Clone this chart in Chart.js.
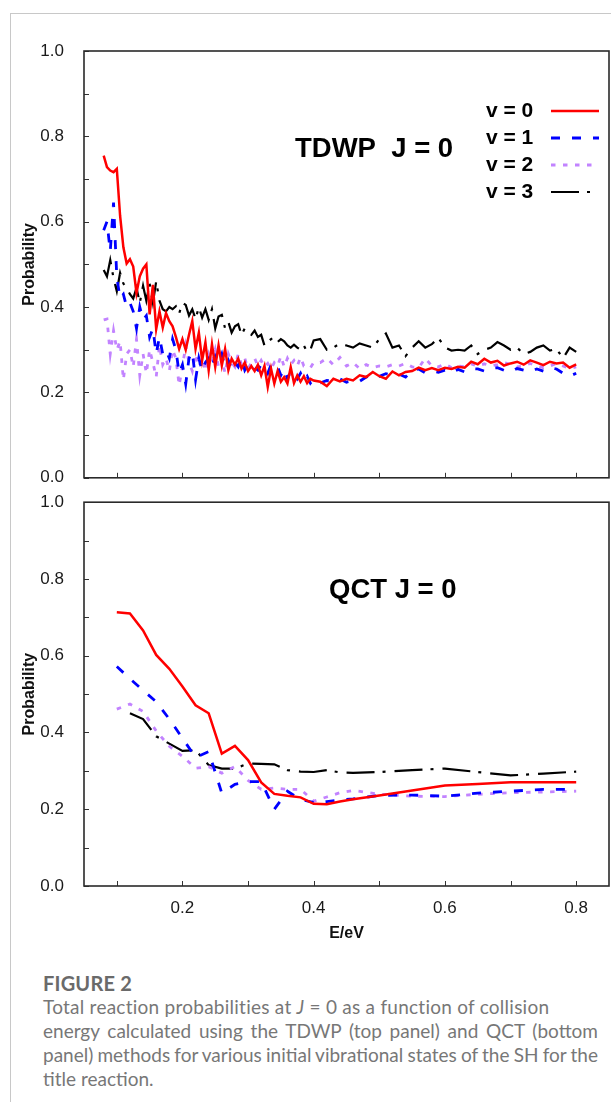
<!DOCTYPE html>
<html>
<head>
<meta charset="utf-8">
<script src="https://cdn.jsdelivr.net/npm/chart.js@4.4.1/dist/chart.umd.min.js"></script>
<style>
  body { margin: 0; background: #fff; width: 611px; height: 1102px; position: relative; overflow: hidden; }
  #frame { position: absolute; left: 10px; top: 13px; width: 640px; height: 1120px;
           border-top: 1px solid #c8c8c8; border-left: 1px solid #c8c8c8; }
  canvas { position: absolute; left: 0; }
  #top-chart { top: 0; }
  #bottom-chart { top: 480px; }
  #caption { position: absolute; left: 43px; top: 971px; color: #777;
             font-family: Lato, "Open Sans", sans-serif; font-size: 19px; line-height: 24px; }
  #caption .fig { color: #6a6a6a; font-weight: 700; font-size: 20px; letter-spacing: 0.2px; }
  #caption .ln { white-space: nowrap; }
  #caption .l1 { letter-spacing: 0.25px; }
  #caption .just { width: 555px; text-align: justify; text-align-last: justify; }
  #caption .tight { word-spacing: -2.5px; }
</style>
</head>
<body>
<div id="frame"></div>
<canvas id="top-chart" width="611" height="500"></canvas>
<canvas id="bottom-chart" width="611" height="480"></canvas>
<div id="caption">
  <div class="fig">FIGURE 2</div>
  <div class="ln l1">Total reaction probabilities at <i>J</i> = 0 as a function of collision</div>
  <div class="ln just">energy calculated using the TDWP (top panel) and QCT (bottom</div>
  <div class="ln just tight">panel) methods for various initial vibrational states of the SH for the</div>
  <div class="ln">title reaction.</div>
</div>
<script>
// TDWP energies (eV): 0.005 steps up to 0.40, then 0.01 steps
const tdwpE = [
  0.080, 0.085, 0.090, 0.095, 0.100, 0.105, 0.110, 0.115, 0.120, 0.125,
  0.130, 0.135, 0.140, 0.145, 0.150, 0.155, 0.160, 0.165, 0.170, 0.175,
  0.180, 0.185, 0.190, 0.195, 0.200, 0.205, 0.210, 0.215, 0.220, 0.225,
  0.230, 0.235, 0.240, 0.245, 0.250, 0.255, 0.260, 0.265, 0.270, 0.275,
  0.280, 0.285, 0.290, 0.295, 0.300, 0.305, 0.310, 0.315, 0.320, 0.325,
  0.330, 0.335, 0.340, 0.345, 0.350, 0.355, 0.360, 0.365, 0.370, 0.375,
  0.380, 0.385, 0.390, 0.395, 0.400,
  0.41, 0.42, 0.43, 0.44, 0.45, 0.46, 0.47, 0.48, 0.49, 0.50,
  0.51, 0.52, 0.53, 0.54, 0.55, 0.56, 0.57, 0.58, 0.59, 0.60,
  0.61, 0.62, 0.63, 0.64, 0.65, 0.66, 0.67, 0.68, 0.69, 0.70,
  0.71, 0.72, 0.73, 0.74, 0.75, 0.76, 0.77, 0.78, 0.79, 0.80
];
const tdwpV0 = [
  0.755, 0.728, 0.720, 0.716, 0.724, 0.614, 0.540, 0.502, 0.512, 0.495,
  0.433, 0.472, 0.490, 0.500, 0.383, 0.452, 0.348, 0.390, 0.352, 0.386,
  0.367, 0.355, 0.330, 0.302, 0.325, 0.300, 0.335, 0.367, 0.302, 0.340,
  0.275, 0.317, 0.252, 0.313, 0.260, 0.310, 0.263, 0.302, 0.252, 0.279,
  0.265, 0.279, 0.256, 0.270, 0.250, 0.262, 0.250, 0.265, 0.240, 0.262,
  0.213, 0.256, 0.221, 0.250, 0.225, 0.236, 0.221, 0.259, 0.222, 0.240,
  0.225, 0.238, 0.222, 0.232, 0.228,
  0.225, 0.215, 0.232, 0.226, 0.232, 0.228, 0.240, 0.236, 0.248, 0.238,
  0.232, 0.249, 0.240, 0.248, 0.250, 0.258, 0.252, 0.257, 0.252, 0.258,
  0.255, 0.260, 0.258, 0.272, 0.266, 0.279, 0.270, 0.274, 0.263, 0.268,
  0.272, 0.265, 0.275, 0.270, 0.264, 0.272, 0.268, 0.270, 0.258, 0.266
];
const tdwpV1 = [
  0.580, 0.600, 0.530, 0.645, 0.470, 0.420, 0.430, 0.400, 0.410, 0.390,
  0.350, 0.400, 0.370, 0.380, 0.330, 0.350, 0.290, 0.330, 0.290, 0.300,
  0.280, 0.325, 0.300, 0.245, 0.265, 0.220, 0.280, 0.295, 0.230, 0.280,
  0.250, 0.270, 0.280, 0.260, 0.285, 0.270, 0.290, 0.258, 0.275, 0.255,
  0.270, 0.260, 0.280, 0.252, 0.265, 0.270, 0.258, 0.252, 0.265, 0.260,
  0.245, 0.265, 0.255, 0.260, 0.240, 0.255, 0.232, 0.250, 0.244, 0.232,
  0.245, 0.228, 0.238, 0.222, 0.232,
  0.222, 0.228, 0.226, 0.232, 0.224, 0.228, 0.226, 0.236, 0.242, 0.238,
  0.244, 0.240, 0.243, 0.236, 0.252, 0.255, 0.246, 0.250, 0.247, 0.252,
  0.246, 0.254, 0.248, 0.256, 0.255, 0.250, 0.257, 0.258, 0.252, 0.248,
  0.256, 0.252, 0.248, 0.255, 0.250, 0.258, 0.255, 0.245, 0.238, 0.245
];
const tdwpV2 = [
  0.370, 0.372, 0.290, 0.345, 0.300, 0.320, 0.230, 0.290, 0.300, 0.260,
  0.325, 0.240, 0.290, 0.245, 0.300, 0.270, 0.236, 0.310, 0.265, 0.280,
  0.250, 0.300, 0.280, 0.217, 0.260, 0.310, 0.270, 0.250, 0.290, 0.260,
  0.280, 0.250, 0.290, 0.270, 0.300, 0.260, 0.280, 0.245, 0.290, 0.270,
  0.260, 0.290, 0.265, 0.280, 0.255, 0.270, 0.280, 0.262, 0.275, 0.260,
  0.268, 0.255, 0.270, 0.262, 0.285, 0.260, 0.280, 0.265, 0.275, 0.262,
  0.282, 0.262, 0.263, 0.258, 0.270,
  0.270, 0.280, 0.265, 0.282, 0.262, 0.270, 0.256, 0.265, 0.258, 0.262,
  0.260, 0.265, 0.262, 0.268, 0.260, 0.258, 0.280, 0.262, 0.260, 0.267,
  0.258, 0.262, 0.260, 0.267, 0.262, 0.267, 0.262, 0.265, 0.270, 0.266,
  0.260, 0.262, 0.268, 0.262, 0.258, 0.262, 0.268, 0.262, 0.256, 0.260
];
const tdwpV3 = [
  0.487, 0.472, 0.510, 0.468, 0.437, 0.480, 0.455, 0.445, 0.430, 0.420,
  0.445, 0.410, 0.450, 0.415, 0.455, 0.410, 0.460, 0.415, 0.395, 0.390,
  0.400, 0.395, 0.402, 0.385, 0.410, 0.405, 0.380, 0.395, 0.372, 0.400,
  0.375, 0.395, 0.370, 0.395, 0.350, 0.378, 0.382, 0.350, 0.365, 0.340,
  0.355, 0.360, 0.335, 0.350, 0.340, 0.335, 0.345, 0.330, 0.335, 0.310,
  0.318, 0.325, 0.330, 0.318, 0.325, 0.320, 0.310, 0.305, 0.312, 0.305,
  0.300, 0.310, 0.295, 0.300, 0.322,
  0.325, 0.300, 0.305, 0.315, 0.310, 0.305, 0.315, 0.310, 0.305, 0.325,
  0.338, 0.305, 0.310, 0.285, 0.305, 0.320, 0.305, 0.313, 0.328, 0.305,
  0.298, 0.300, 0.298, 0.310, 0.290, 0.300, 0.305, 0.318, 0.310, 0.300,
  0.305, 0.290, 0.295, 0.305, 0.310, 0.298, 0.302, 0.280, 0.305, 0.295
];

// QCT energies (eV)
const qctE = [0.10, 0.12, 0.14, 0.16, 0.18, 0.20, 0.22, 0.24, 0.26, 0.28, 0.30, 0.32, 0.34,
              0.36, 0.38, 0.40, 0.42, 0.44, 0.46, 0.50, 0.55, 0.60, 0.65, 0.70, 0.75, 0.80];
const qctV0 = [0.713, 0.710, 0.666, 0.602, 0.566, 0.520, 0.471, 0.450, 0.345, 0.365, 0.328, 0.270, 0.240,
               0.235, 0.231, 0.214, 0.213, 0.220, 0.226, 0.236, 0.249, 0.262, 0.266, 0.270, 0.270, 0.270];
const qctV1 = [0.572, 0.540, 0.510, 0.480, 0.435, 0.385, 0.335, 0.350, 0.242, 0.265, 0.272, 0.272, 0.200,
               0.247, 0.225, 0.218, 0.220, 0.224, 0.227, 0.236, 0.237, 0.234, 0.242, 0.247, 0.252, 0.252];
const qctV2 = [0.461, 0.474, 0.455, 0.404, 0.364, 0.338, 0.307, 0.311, 0.294, 0.311, 0.275, 0.252, 0.255,
               0.252, 0.252, 0.221, 0.232, 0.243, 0.249, 0.239, 0.234, 0.233, 0.239, 0.243, 0.245, 0.247];
const qctV3 = [null, 0.450, 0.435, 0.390, 0.371, 0.352, 0.354, 0.315, 0.306, 0.306, 0.319, 0.318, 0.317,
               0.302, 0.298, 0.297, 0.302, 0.296, 0.295, 0.297, 0.302, 0.306, 0.297, 0.288, 0.293, 0.298];

const seriesNames = ["v = 0", "v = 1", "v = 2", "v = 3"];
const xTicks = [0.1, 0.2, 0.3, 0.4, 0.5, 0.6, 0.7, 0.8];
const xLabels = [0.2, 0.4, 0.6, 0.8];
const yTicks = [0, 0.1, 0.2, 0.3, 0.4, 0.5, 0.6, 0.7, 0.8, 0.9, 1.0];
const yLabels = [0, 0.2, 0.4, 0.6, 0.8, 1.0];

const styles = [
  { color: "#ff0000", width: 2.5, dash: [] },
  { color: "#0000ff", width: 2.8, dash: [9, 12] },
  { color: "#c283ff", width: 2.8, dash: [4.5, 7.5] },
  { color: "#000000", width: 2.2, dash: [28, 8, 3, 9] }
];
const fontFamily = "'Liberation Sans', Arial, sans-serif";
const tickFont = { family: fontFamily, size: 17 };

function points(xs, ys) {
  const out = [];
  xs.forEach((x, i) => { if (ys[i] !== null) out.push({ x: x, y: ys[i] }); });
  return out;
}

function makeDatasets(xs, list) {
  return list.map((ys, i) => ({
    label: seriesNames[i],
    data: points(xs, ys),
    borderColor: styles[i].color,
    borderWidth: styles[i].width,
    borderDash: styles[i].dash,
    pointRadius: 0,
    tension: 0,
    fill: false,
    order: i
  }));
}

const hasLabel = (list, v) => list.some(l => Math.abs(l - v) < 1e-6);

// gnuplot-like box with inward ticks
const frameTicks = {
  id: "frameTicks",
  afterDatasetsDraw(chart) {
    const { ctx, chartArea: a, scales: { x, y } } = chart;
    ctx.save();
    ctx.setLineDash([]);
    ctx.strokeStyle = "#333";
    ctx.lineWidth = 1;
    ctx.beginPath();
    xTicks.forEach(v => {
      const px = Math.round(x.getPixelForValue(v)) + 0.5;
      ctx.moveTo(px, a.bottom); ctx.lineTo(px, a.bottom - 5);
    });
    yTicks.forEach(v => {
      const py = Math.round(y.getPixelForValue(v)) + 0.5;
      ctx.moveTo(a.left, py); ctx.lineTo(a.left + 5, py);
    });
    ctx.stroke();
    ctx.lineWidth = 1.6;
    ctx.strokeStyle = "#2a2a2a";
    ctx.strokeRect(a.left, a.top, a.width, a.height);
    ctx.restore();
  }
};

const panelText = {
  id: "panelText",
  afterDraw(chart, args, opts) {
    const { ctx } = chart;
    ctx.save();
    ctx.fillStyle = "#000";
    ctx.textBaseline = "middle";
    ctx.font = "bold 27.5px " + fontFamily;
    ctx.fillText(opts.title, opts.tx, opts.ty);
    if (opts.legend) {
      ctx.font = "bold 21px " + fontFamily;
      opts.legendY.forEach((ly, i) => {
        ctx.fillStyle = "#000";
        ctx.fillText(seriesNames[i], 486, ly);
        ctx.strokeStyle = styles[i].color;
        ctx.lineWidth = styles[i].width;
        ctx.setLineDash(styles[i].dash);
        ctx.beginPath();
        ctx.moveTo(551, ly);
        ctx.lineTo(599, ly);
        ctx.stroke();
      });
    }
    ctx.restore();
  }
};

function yScale() {
  return {
    min: 0, max: 1,
    grid: { display: false },
    border: { display: false },
    afterBuildTicks: s => { s.ticks = yTicks.map(v => ({ value: v })); },
    afterFit: s => { s.width = 84; },
    ticks: {
      font: tickFont, color: "#1a1a1a", padding: 12,
      callback: v => hasLabel(yLabels, v) ? v.toFixed(1) : ""
    },
    title: {
      display: true, text: "Probability", color: "#111",
      font: { family: fontFamily, size: 16, weight: "bold" },
      padding: { top: 20, bottom: 0 }
    }
  };
}

function xScale(show) {
  return {
    type: "linear",
    min: 0.05, max: 0.85,
    display: show,
    grid: { display: false },
    border: { display: false },
    afterBuildTicks: s => { s.ticks = xTicks.map(v => ({ value: v })); },
    afterFit: s => { if (show) s.height = 70; },
    ticks: {
      font: tickFont, color: "#1a1a1a", padding: 4, autoSkip: false, maxRotation: 0,
      callback: v => hasLabel(xLabels, v) ? v.toFixed(1) : ""
    },
    title: {
      display: show, text: "E/eV", color: "#111",
      font: { family: fontFamily, size: 16, weight: "bold" },
      padding: { top: 0, bottom: 13 }
    }
  };
}

function baseOptions(padding, showX, textOpts) {
  return {
    responsive: false,
    animation: false,
    devicePixelRatio: 1,
    layout: { padding: padding },
    plugins: { legend: { display: false }, tooltip: { enabled: false }, panelText: textOpts },
    scales: { x: xScale(showX), y: yScale() }
  };
}

new Chart(document.getElementById("top-chart"), {
  type: "line",
  data: { datasets: makeDatasets(tdwpE, [tdwpV0, tdwpV1, tdwpV2, tdwpV3]) },
  options: baseOptions({ top: 51, right: 2, bottom: 18, left: 0 }, false,
    { title: "TDWP  J = 0", tx: 295, ty: 149, legend: true, legendY: [111, 138, 165, 192] }),
  plugins: [frameTicks, panelText]
});

new Chart(document.getElementById("bottom-chart"), {
  type: "line",
  data: { datasets: makeDatasets(qctE, [qctV0, qctV1, qctV2, qctV3]) },
  options: baseOptions({ top: 17, right: 2, bottom: 4, left: 0 }, true,
    { title: "QCT J = 0", tx: 329, ty: 110, legend: false }),
  plugins: [frameTicks, panelText]
});
</script>
</body>
</html>
